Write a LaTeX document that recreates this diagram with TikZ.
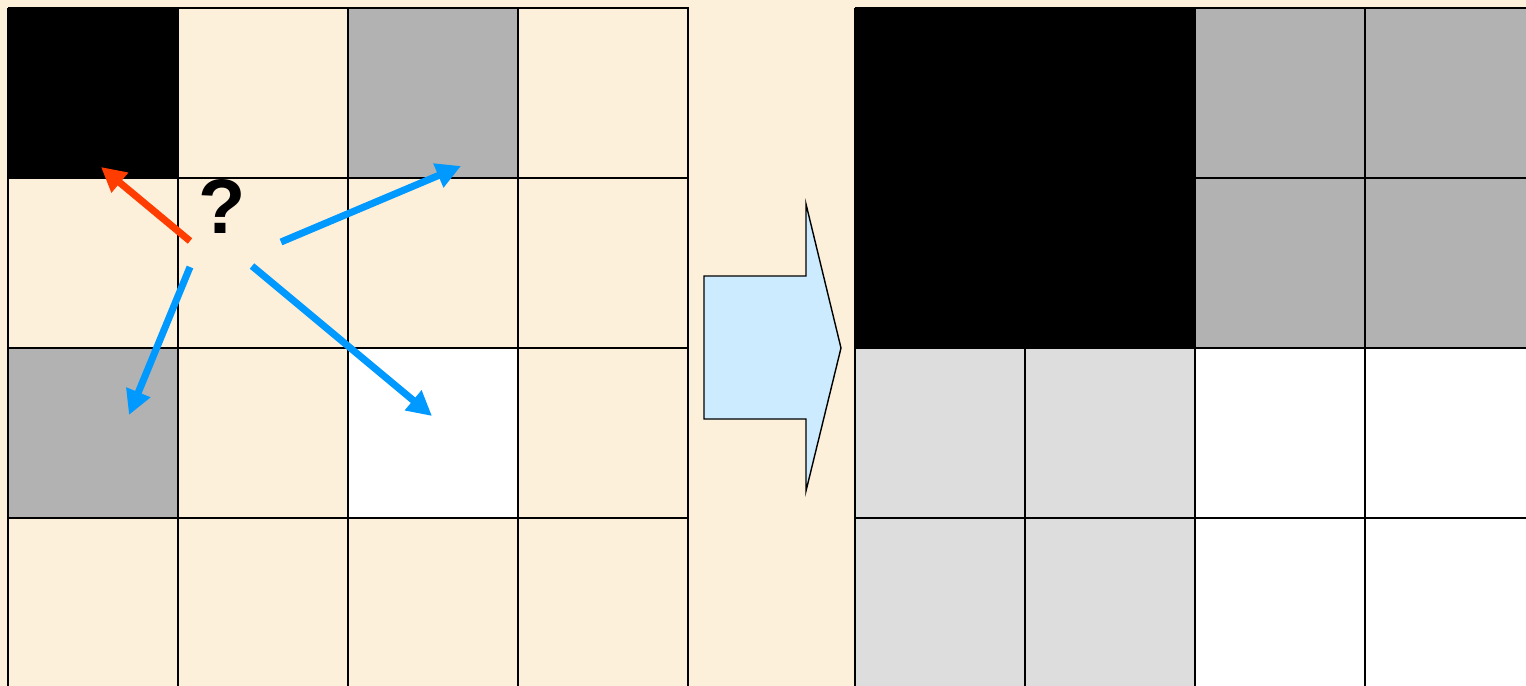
\documentclass[tikz,border=0pt]{standalone}
\usepackage{fontspec}
\setsansfont{Liberation Sans}
\usepackage{tikz}
\usetikzlibrary{arrows.meta}
\definecolor{parchment}{HTML}{FCF0DA}
\definecolor{darkcell}{HTML}{B2B2B2}
\definecolor{palecell}{HTML}{DDDDDD}
\definecolor{probred}{HTML}{FF3D00}
\definecolor{probblue}{HTML}{0099FF}
\definecolor{stepfill}{HTML}{CCEBFF}
\tikzset{
  gridline/.style={draw=black, line width=1.1pt},
  probarrow/.style={
    line width=4pt, -{Triangle[length=14pt, width=14pt]}
  },
  bigstep/.style={draw=black, line width=0.8pt, fill=stepfill, line join=miter},
  querylabel/.style={
    font=\sffamily\bfseries\fontsize{44}{44}\selectfont, inner sep=0pt
  },
}

\begin{document}
\begin{tikzpicture}[x=0.02cm, y=-0.02cm]
  % Page and background
  \fill[parchment] (0,0) rectangle (1526,686);
  \clip (0,0) rectangle (1526,686);

  % Left grid: coloured cells
  \fill[black]    (8,8)     rectangle (178,178);
  \fill[darkcell] (348,8)   rectangle (518,178);
  \fill[darkcell] (8,348)   rectangle (178,518);
  \fill[white]    (348,348) rectangle (518,518);

  % Left grid: lines
  \foreach \i in {0,...,4}
    \draw[gridline] ({8+170*\i},8) -- ({8+170*\i},700);
  \foreach \j in {0,...,3}
    \draw[gridline] (8,{8+170*\j}) -- (689,{8+170*\j});

  % Right grid: merged blocks
  \fill[black]    (855,8)   rectangle (1195,348);
  \fill[darkcell] (1195,8)  rectangle (1535,348);
  \fill[palecell] (855,348) rectangle (1195,700);
  \fill[white]    (1195,348) rectangle (1535,700);

  % Right grid: lines
  \foreach \x in {855,1195,1365}
    \draw[gridline] (\x,8) -- (\x,700);
  \draw[gridline] (1025,348) -- (1025,700);
  \draw[gridline] (855,8) -- (1535,8);
  \draw[gridline] (1195,178) -- (1535,178);
  \foreach \y in {348,518}
    \draw[gridline] (855,\y) -- (1535,\y);

  % Unknown cell
  \node[querylabel] (query) at (222,207) {?};

  % Arrow ends
  \coordinate (redstart) at (190,241);
  \coordinate (redend) at (101,167);
  \coordinate (upstart) at (281,242);
  \coordinate (upend) at (461,166);
  \coordinate (downstart) at (190,267);
  \coordinate (downend) at (129,415);
  \coordinate (diagstart) at (252,266);
  \coordinate (diagend) at (432,416);

  \draw[probarrow, probred] (redstart) -- (redend);
  \draw[probarrow, probblue] (upstart) -- (upend);
  \draw[probarrow, probblue] (downstart) -- (downend);
  \draw[probarrow, probblue] (diagstart) -- (diagend);

  % Big step arrow
  \draw[bigstep] (704,276) -- (806,276) -- (806,204) -- (841,348)
    -- (806,491) -- (806,419) -- (704,419) -- cycle;
\end{tikzpicture}
\end{document}
